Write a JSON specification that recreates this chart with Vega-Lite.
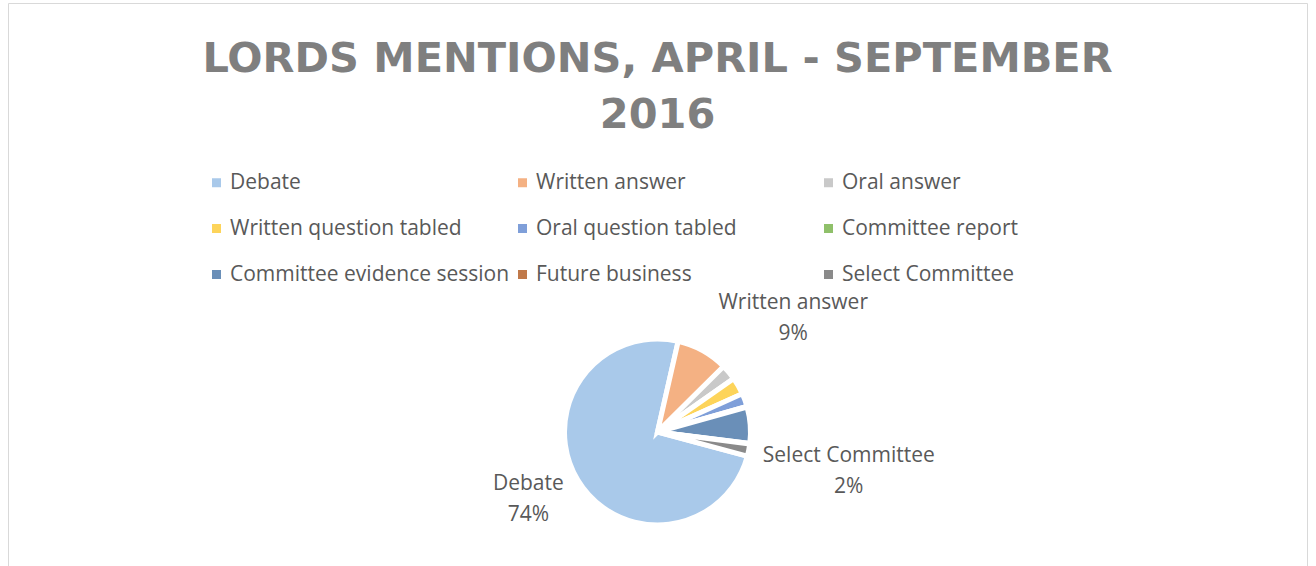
{
  "$schema": "https://vega.github.io/schema/vega-lite/v6.json",
  "width": 1299,
  "height": 858,
  "autosize": {"type": "none"},
  "padding": {"left": 8, "top": 3, "right": 9, "bottom": -295},
  "background": "white",
  "view": {"stroke": "#d9d9d9", "strokeWidth": 1, "fill": "white"},
  "config": {
    "view": {"stroke": "#d9d9d9", "strokeWidth": 1},
    "font": "Open Sans"
  },
  "title": {
    "text": ["LORDS MENTIONS, APRIL - SEPTEMBER", "2016"],
    "font": "DejaVu Sans",
    "fontSize": 41.5,
    "fontWeight": "bold",
    "color": "#7f7f7f",
    "anchor": "middle",
    "baseline": "top",
    "lineHeight": 56,
    "offset": -133
  },
  "data": {
    "values": [
      {"idx": 1, "category": "Debate", "share": 0.744},
      {"idx": 2, "category": "Written answer", "share": 0.090},
      {"idx": 3, "category": "Oral answer", "share": 0.027},
      {"idx": 4, "category": "Written question tabled", "share": 0.030},
      {"idx": 5, "category": "Oral question tabled", "share": 0.023},
      {"idx": 6, "category": "Committee report", "share": 0.001},
      {"idx": 7, "category": "Committee evidence session", "share": 0.063},
      {"idx": 8, "category": "Future business", "share": 0.001},
      {"idx": 9, "category": "Select Committee", "share": 0.021}
    ]
  },
  "encoding": {
    "theta": {"field": "share", "type": "quantitative", "stack": true,
      "scale": {"domain": [0, 1], "range": [1.8326, 8.1158]}},
    "order": {"field": "idx", "type": "quantitative", "sort": "ascending"}
  },
  "layer": [
    {
      "mark": {"type": "arc", "radius": 93, "stroke": "white", "strokeWidth": 5},
      "encoding": {
        "color": {
          "field": "category", "type": "nominal",
          "scale": {
            "domain": ["Debate", "Written answer", "Oral answer", "Written question tabled", "Oral question tabled", "Committee report", "Committee evidence session", "Future business", "Select Committee"],
            "range": ["#a9c9ea", "#f4b183", "#c9c9c9", "#fdd45a", "#7f9fd9", "#8fc06a", "#6a8fb8", "#c0794a", "#8a8a8a"]
          },
          "legend": {
            "title": null,
            "orient": "none",
            "legendX": 198,
            "legendY": 169,
            "direction": "horizontal",
            "columns": 3,
            "gridAlign": "all",
            "columnPadding": 2,
            "rowPadding": 24,
            "symbolType": "square",
            "symbolSize": 81,
            "symbolStrokeWidth": 0,
            "labelFont": "Open Sans",
            "labelFontSize": 21,
            "labelColor": "#595959",
            "labelOffset": 3,
            "labelLimit": 400
          }
        }
      }
    },
    {
      "mark": {"type": "text", "radius": 145, "thetaOffset": 0.07, "dy": -14, "font": "Open Sans", "fontSize": 21, "color": "#595959"},
      "encoding": {"text": {"condition": {"test": "datum.category === 'Debate'", "field": "category", "type": "nominal"}, "value": ""}}
    },
    {
      "mark": {"type": "text", "radius": 145, "thetaOffset": 0.07, "dy": 17, "font": "Open Sans", "fontSize": 21, "color": "#595959"},
      "encoding": {"text": {"condition": {"test": "datum.category === 'Debate'", "field": "share", "type": "quantitative", "format": ".0%"}, "value": ""}}
    },
    {
      "mark": {"type": "text", "radius": 178, "thetaOffset": 0.36, "dy": -14, "font": "Open Sans", "fontSize": 21, "color": "#595959"},
      "encoding": {"text": {"condition": {"test": "datum.category === 'Written answer'", "field": "category", "type": "nominal"}, "value": ""}}
    },
    {
      "mark": {"type": "text", "radius": 178, "thetaOffset": 0.36, "dy": 17, "font": "Open Sans", "fontSize": 21, "color": "#595959"},
      "encoding": {"text": {"condition": {"test": "datum.category === 'Written answer'", "field": "share", "type": "quantitative", "format": ".0%"}, "value": ""}}
    },
    {
      "mark": {"type": "text", "radius": 195, "dy": -14, "font": "Open Sans", "fontSize": 21, "color": "#595959"},
      "encoding": {"text": {"condition": {"test": "datum.category === 'Select Committee'", "field": "category", "type": "nominal"}, "value": ""}}
    },
    {
      "mark": {"type": "text", "radius": 195, "dy": 17, "font": "Open Sans", "fontSize": 21, "color": "#595959"},
      "encoding": {"text": {"condition": {"test": "datum.category === 'Select Committee'", "field": "share", "type": "quantitative", "format": ".0%"}, "value": ""}}
    }
  ]
}
